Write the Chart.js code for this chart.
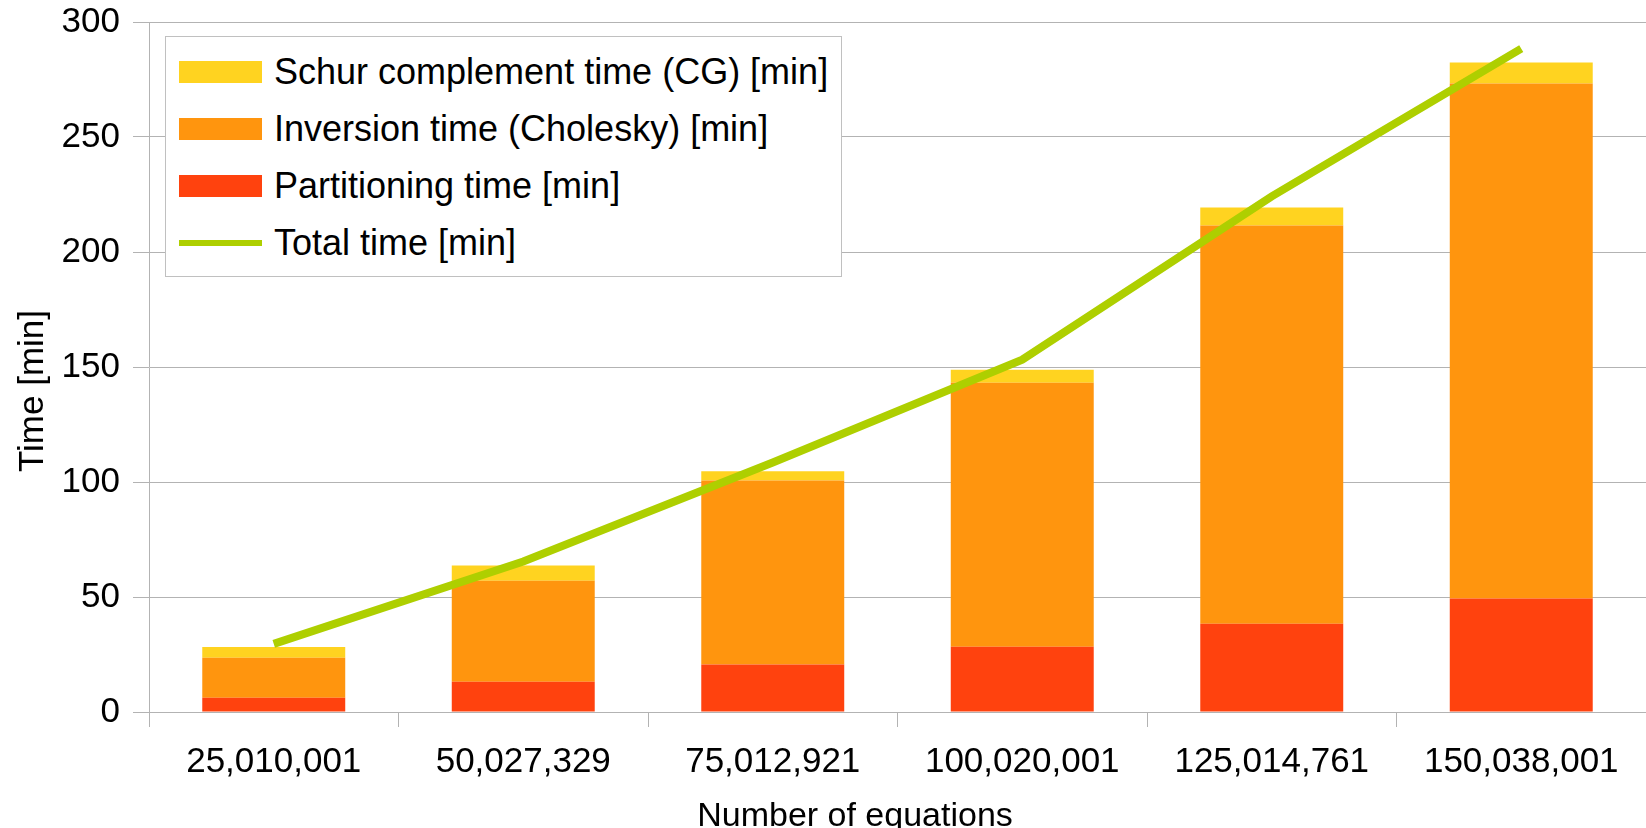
<!DOCTYPE html>
<html>
<head>
<meta charset="utf-8">
<script src="https://cdn.jsdelivr.net/npm/chart.js@4.4.1/dist/chart.umd.min.js"></script>
<style>
	body { margin: 0; background: #fff; }
	#wrap { position: relative; width: 1646px; height: 828px; }
	#legend {
		position: absolute; left: 165px; top: 36px; width: 677px; height: 241px;
		background: #fff; border: 1px solid #c0c0c0; box-sizing: border-box;
		font-family: "Liberation Sans", Arial, sans-serif; font-size: 36px; color: #000;
	}
	.legendRow { position: absolute; left: 13px; height: 40px; display: flex; align-items: center; white-space: nowrap; }
	.legendRow .swatch { width: 83px; margin-right: 12px; }
</style>
</head>
<body>
<div id="wrap">
	<canvas id="timeChart" width="1646" height="828"></canvas>
	<div id="legend"></div>
</div>
<script>
// categories (number of equations)
const equations = ["25,010,001", "50,027,329", "75,012,921", "100,020,001", "125,014,761", "150,038,001"];

// stacked parts, in minutes
const partitioningTime = [6.2, 13.1, 20.6, 28.4, 38.4, 49.3];
const inversionTime = [17.4, 44.0, 80.0, 114.8, 173.1, 224.0];
const schurTime = [4.7, 6.6, 4.1, 5.6, 7.8, 9.1];

// total time line
const totalTime = [29.6, 65.4, 108.5, 153.2, 224.2, 288.4];

const yTicks = [0, 50, 100, 150, 200, 250, 300];

const xTitle = 'Number of equations';
const yTitle = 'Time [min]';

const fontFamily = '"Liberation Sans", Arial, sans-serif';
const gridColor = '#b3b3b3';

const datasets = [
	{
		type: 'bar',
		label: 'Partitioning time [min]',
		data: partitioningTime,
		backgroundColor: '#FF420E',
		stack: 'parts'
	},
	{
		type: 'bar',
		label: 'Inversion time (Cholesky) [min]',
		data: inversionTime,
		backgroundColor: '#FF950E',
		stack: 'parts'
	},
	{
		type: 'bar',
		label: 'Schur complement time (CG) [min]',
		data: schurTime,
		backgroundColor: '#FFD320',
		stack: 'parts'
	},
	{
		type: 'line',
		label: 'Total time [min]',
		data: totalTime,
		borderColor: '#AECF00',
		backgroundColor: '#AECF00',
		borderWidth: 8,
		pointRadius: 0,
		tension: 0,
		fill: false,
		stack: 'total',
		order: -1
	}
];

// axis titles sit a bit off the axis centres in the original, so place them by hand
const axisTitles = {
	id: 'axisTitles',
	afterDraw(chart) {
		const c = chart.ctx;
		c.save();
		c.fillStyle = '#000';
		c.textBaseline = 'alphabetic';
		c.textAlign = 'center';
		c.font = '34px ' + fontFamily;
		c.fillText(xTitle, 855, 826);
		c.translate(43, 391);
		c.rotate(-Math.PI / 2);
		c.font = '35px ' + fontFamily;
		c.fillText(yTitle, 0, 0);
		c.restore();
	}
};

const ctx = document.getElementById('timeChart');

new Chart(ctx, {
	data: {
		labels: equations,
		datasets: datasets
	},
	plugins: [axisTitles],
	options: {
		responsive: false,
		animation: false,
		devicePixelRatio: 1,
		layout: { padding: { top: 22, right: 0, bottom: 0, left: 0 } },
		datasets: {
			bar: { categoryPercentage: 1, barPercentage: 0.573 }
		},
		plugins: {
			legend: { display: false },
			tooltip: { enabled: false }
		},
		scales: {
			x: {
				stacked: true,
				grid: {
					drawOnChartArea: false,
					drawTicks: true,
					tickLength: 15,
					color: gridColor,
					offset: true
				},
				border: { color: gridColor },
				ticks: {
					color: '#000',
					font: { family: fontFamily, size: 35 },
					padding: 14,
					maxRotation: 0,
					autoSkip: false
				},
				afterFit: function (scale) { scale.height = 116; }
			},
			y: {
				stacked: true,
				min: 0,
				max: 300,
				afterBuildTicks: function (scale) {
					scale.ticks = yTicks.map(v => ({ value: v }));
				},
				grid: {
					color: gridColor,
					tickLength: 16
				},
				border: { color: gridColor },
				ticks: {
					color: '#000',
					font: { family: fontFamily, size: 35 },
					padding: 13
				},
				afterFit: function (scale) {
					scale.width = 149;
					// let the layout padding decide where the plot starts
					scale.paddingTop = 0;
					scale.paddingBottom = 0;
				}
			}
		}
	}
});

// html legend, drawn inside the plot like the original
const legendOrder = [2, 1, 0, 3];
const rowCenters = [35, 92, 149, 206];
const legend = document.getElementById('legend');
legendOrder.forEach((idx, i) => {
	const ds = datasets[idx];
	const row = document.createElement('div');
	row.className = 'legendRow';
	row.style.top = (rowCenters[i] - 20) + 'px';
	const swatch = document.createElement('div');
	swatch.className = 'swatch';
	if (ds.type === 'line') {
		swatch.style.height = '6px';
		swatch.style.background = ds.borderColor;
	} else {
		swatch.style.height = '22px';
		swatch.style.background = ds.backgroundColor;
	}
	const text = document.createElement('span');
	text.textContent = ds.label;
	row.appendChild(swatch);
	row.appendChild(text);
	legend.appendChild(row);
});
</script>
</body>
</html>
